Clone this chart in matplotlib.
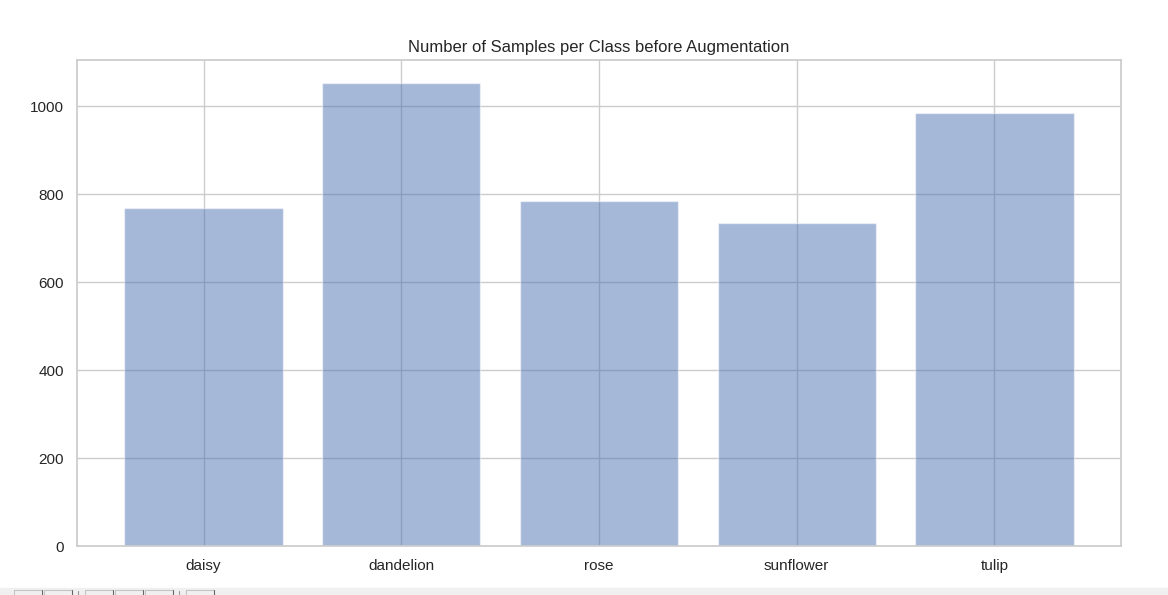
import matplotlib
matplotlib.use('Agg')
import matplotlib.pyplot as plt
from matplotlib.lines import Line2D
import seaborn as sns

categories = ['daisy', 'dandelion', 'rose', 'sunflower', 'tulip']
counts = [769, 1052, 784, 734, 984]

sns.set_theme(style='whitegrid')
plt.rcParams['font.family'] = ['Arial', 'Liberation Sans', 'DejaVu Sans']

W, H = 1168, 595
fig = plt.figure(figsize=(W/100, H/100), dpi=100)
ax = fig.add_axes([77/W, 1-546/H, (1121-77)/W, (546-60)/H])
ax.bar(categories, counts, color='#4c72b0', alpha=0.5)
ax.set_title('Number of Samples per Class before Augmentation', fontsize=12, pad=6)
ax.tick_params(labelsize=11)
ax.set_ylim(0, 1105)

# clipped window toolbar along the bottom edge
fig.add_artist(plt.Rectangle((0, 0), 1, 7/H, transform=fig.transFigure, color='#f0f0f0', zorder=5))
for x0, x1 in [(14, 42), (44, 72), (85, 113), (115, 143), (145, 173), (186, 214)]:
    fig.add_artist(Line2D([x0/W, x0/W, x1/W], [0, 5/H, 5/H], color='#c4c4c4', lw=0.8, zorder=6))
    fig.add_artist(Line2D([x1/W, x1/W], [0, 5/H], color='#666666', lw=0.8, zorder=6))
for x in (78, 179):
    fig.add_artist(Line2D([x/W, x/W], [0, 4/H], color='#999999', lw=0.8, zorder=6))
fig.savefig('out.png', dpi=100)
